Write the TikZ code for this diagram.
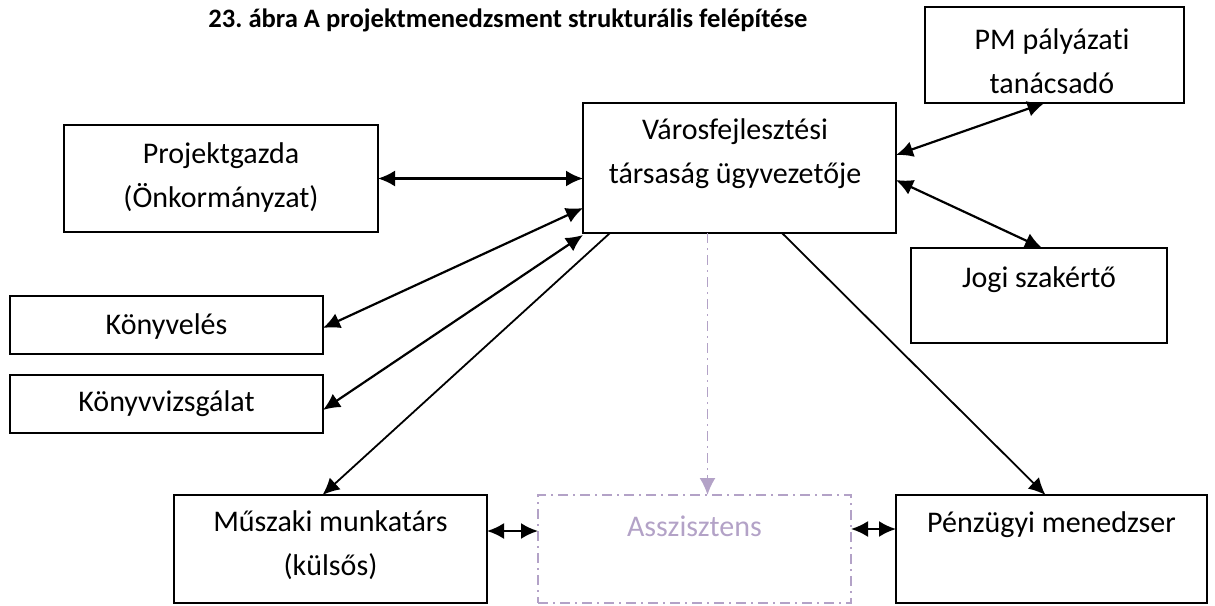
\documentclass[tikz,border=0pt]{standalone}
\usepackage{fontspec}
\setmainfont{Carlito}[Ligatures={NoCommon}]
\usetikzlibrary{arrows.meta,calc}
\definecolor{lpurple}{HTML}{B3A2C7}
\frenchspacing
\begin{document}
\begin{tikzpicture}[x=0.5pt,y=-0.5pt,
  box/.style={draw, line width=0.9pt, inner sep=0pt, outer sep=0pt},
  dbox/.style={draw=lpurple, line width=0.7pt, inner sep=0pt, outer sep=0pt,
    dash pattern=on 5pt off 2.5pt on 1pt off 2.5pt},
  lbl/.style={font=\fontsize{15}{22}\selectfont, align=center, inner sep=0pt},
  dbl/.style={line width=1.1pt, {Latex[length=8.5pt,width=8pt]}-{Latex[length=8.5pt,width=8pt]}},
  one/.style={line width=0.9pt, -{Latex[length=8.5pt,width=8pt]}},
  dsh/.style={draw=lpurple, line width=0.9pt, dash pattern=on 5pt off 2.5pt on 1pt off 2.5pt,
    -{Latex[length=8.5pt,width=8pt,fill=lpurple]}}]
\useasboundingbox (0,0) rectangle (1215,605);
\node[font=\fontsize{13.3}{16}\selectfont\bfseries, inner sep=0pt] (title) at (508,20)
  {23. ábra A projektmenedzsment strukturális felépítése};
% boxes
\node[box, minimum width=157pt, minimum height=53.5pt] (p) at (221,178.5) {};
\node[box, minimum width=156.5pt, minimum height=65pt] (v) at (739.5,168) {};
\node[box, minimum width=129.5pt, minimum height=48pt] (pm) at (1054.5,55) {};
\node[box, minimum width=128pt, minimum height=47.5pt] (j) at (1039,295.5) {};
\node[box, minimum width=156.5pt, minimum height=29pt] (k1) at (166.5,325) {};
\node[box, minimum width=156.5pt, minimum height=29pt] (k2) at (166.5,404) {};
\node[box, minimum width=156.5pt, minimum height=54pt] (mu) at (330.5,549) {};
\node[dbox, minimum width=156.5pt, minimum height=54pt] (as) at (694.5,549) {};
\node[box, minimum width=155.5pt, minimum height=54pt] (pe) at (1051.5,549) {};
% labels
\node[lbl] (pt) at (221,177) {Projektgazda\\(Önkormányzat)};
\node[lbl] (vt) at (735,154) {Városfejlesztési\\társaság ügyvezetője};
\node[lbl] (pmt) at (1052,61.5) {PM pályázati\\tanácsadó};
\node[lbl] (jt) at (1039,280) {Jogi szakértő};
\node[lbl] (k1t) at (166.5,326) {Könyvelés};
\node[lbl] (k2t) at (166.5,404) {Könyvvizsgálat};
\node[lbl] (mut) at (330.5,545) {Műszaki munkatárs\\(külsős)};
\node[lbl, text=lpurple] (ast) at (694.5,526) {Asszisztens};
\node[lbl] (pet) at (1051.5,525) {Pénzügyi menedzser};
% connectors
\draw[dbl] (p.east) -- (p.east -| v.west);
\draw[dbl] ($(v.west)+(0,40)$) -- ($(k1.east)+(0,3)$);
\draw[dbl] ($(v.south west)+(0,2)$) -- ($(k2.east)+(0,6)$);
\draw[one] ($(v.south west)+(27,0)$) -- ($(mu.north)+(-8,0)$);
\draw[one] ($(v.south west)+(199,0)$) -- ($(pe.north)+(-6,0)$);
\coordinate (asin) at ($(as.north)+(13,0)$);
\draw[dsh] (v.south -| asin) -- (asin);
\draw[dbl] ($(v.east)+(0,-13)$) -- ($(pm.south)+(-10,0)$);
\draw[dbl] ($(v.east)+(0,12)$) -- ($(j.north)+(3,0)$);
\coordinate (m1) at ($(mu.east)+(0,-18)$);
\draw[dbl] (m1) -- (m1 -| as.west);
\coordinate (a1) at ($(as.east)+(0,-20)$);
\draw[dbl] (a1) -- (a1 -| pe.west);
\end{tikzpicture}
\end{document}
